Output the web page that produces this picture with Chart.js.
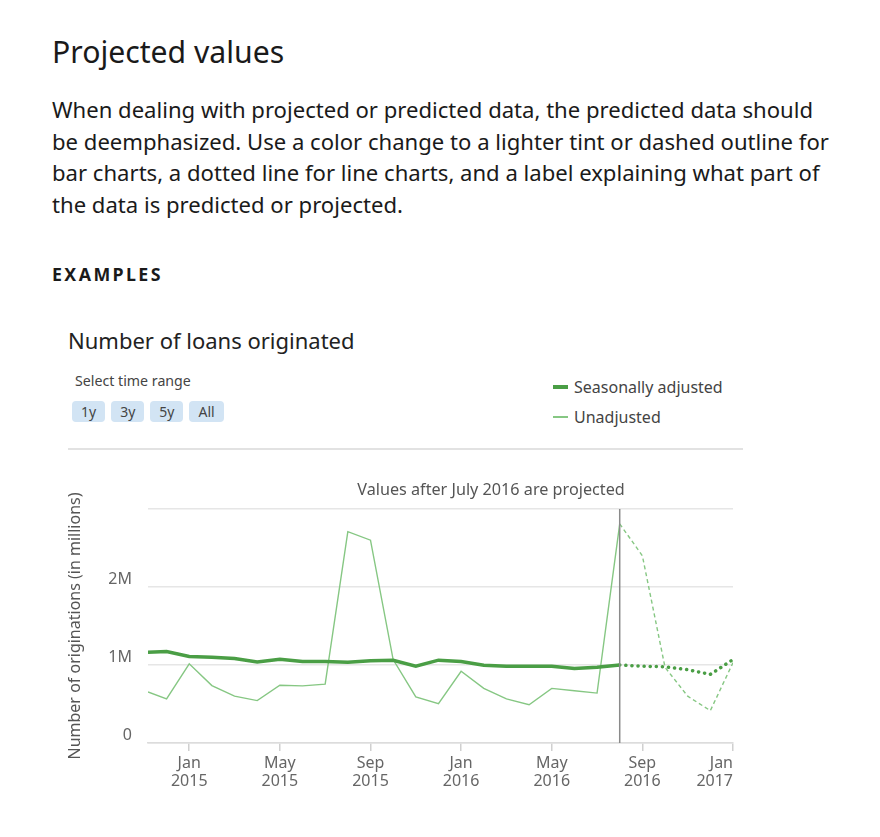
<!DOCTYPE html>
<html>
<head>
<meta charset="utf-8">
<script src="https://cdn.jsdelivr.net/npm/chart.js@4"></script>
<style>
  body { margin: 0; background: #fff; font-family: "Noto Sans", Lato, sans-serif; color: #1a1a1a; }
  .page { position: relative; width: 880px; height: 837px; }
  h1 { position: absolute; left: 52px; top: 32px; margin: 0; font-weight: 400; font-size: 30.2px; line-height: 40px; }
  p.lead { position: absolute; left: 52px; top: 94px; margin: 0; font-size: 22.1px; line-height: 31.5px; }
  .examples { position: absolute; left: 52px; top: 262px; font-size: 17.8px; font-weight: 700; letter-spacing: 2.4px; line-height: 24px; }
  .ctitle { position: absolute; left: 68px; top: 326px; font-size: 22px; color: #222; line-height: 28px; }
  .range { position: absolute; left: 75px; top: 371px; font-size: 14.2px; color: #444; line-height: 20px; }
  .btns { position: absolute; left: 72px; top: 401px; display: flex; gap: 6px; }
  .btns span { background: #d2e4f4; border-radius: 4px; font-size: 14px; color: #444; height: 21px; line-height: 21px; padding: 0 9px; }
  .legend { position: absolute; left: 553px; top: 372px; font-size: 16px; color: #444; }
  .legend div { display: flex; align-items: center; height: 30px; }
  .legend i { display: inline-block; width: 15px; margin-right: 6px; }
  .sep { position: absolute; left: 68px; top: 448px; width: 675px; height: 2px; background: #e2e2e2; }
  #wrap { position: absolute; left: 60px; top: 460px; width: 700px; height: 345px; }
</style>
</head>
<body>
<div class="page">
  <h1>Projected values</h1>
  <p class="lead">When dealing with projected or predicted data, the predicted data should<br>be deemphasized. Use a color change to a lighter tint or dashed outline for<br>bar charts, a dotted line for line charts, and a label explaining what part of<br>the data is predicted or projected.</p>
  <div class="examples">EXAMPLES</div>
  <div class="ctitle">Number of loans originated</div>
  <div class="range">Select time range</div>
  <div class="btns"><span>1y</span><span>3y</span><span>5y</span><span>All</span></div>
  <div class="legend">
    <div><i style="height:3.5px;background:#4a9e45"></i>Seasonally adjusted</div>
    <div><i style="height:1.5px;background:#86c783"></i>Unadjusted</div>
  </div>
  <div class="sep"></div>
  <div id="wrap"><canvas id="chart"></canvas></div>
</div>
<script>
// month offsets, 0 = Jan 2015 (first point sits at the left edge of the plot)
const months = [-1.82, -1, 0, 1, 2, 3, 4, 5, 6, 7, 8, 9, 10, 11, 12, 13, 14, 15, 16, 17, 18, 19, 20, 21, 22, 23, 24];
const seasonal = [1.165, 1.173, 1.11, 1.10, 1.083, 1.04, 1.075, 1.045, 1.045, 1.036, 1.054, 1.06, 0.985, 1.062,
  1.045, 0.998, 0.985, 0.985, 0.985, 0.955, 0.97, 1.0, 0.985, 0.977, 0.94, 0.88, 1.07];
const unadjusted = [0.655, 0.565, 1.015, 0.736, 0.60, 0.544, 0.74, 0.733, 0.754, 2.71, 2.60, 1.07, 0.59, 0.505,
  0.92, 0.70, 0.565, 0.49, 0.70, 0.67, 0.64, 2.81, 2.40, 0.97, 0.60, 0.415, 1.03];
const projectFrom = 19; // Aug 2016
const tickMonths = [0, 4, 8, 12, 16, 20, 24];
const tickLabels = [['Jan', '2015'], ['May', '2015'], ['Sep', '2015'], ['Jan', '2016'], ['May', '2016'], ['Sep', '2016'], ['Jan', '2017']];
const yTicks = ['0', '1M', '2M', ''];
const note = 'Values after July 2016 are projected';

const pts = vals => vals.map((v, i) => ({ x: months[i], y: v }));
const actual = arr => arr.filter(p => p.x <= projectFrom);
const projected = arr => arr.filter(p => p.x >= projectFrom);

const green = '#4a9e45';
const lightGreen = '#86c783';
const fontFamily = '"Noto Sans", Lato, sans-serif';

const projectionMarker = {
  id: 'projectionMarker',
  afterDatasetsDraw(chart) {
    const { ctx, chartArea, scales } = chart;
    const x = scales.x.getPixelForValue(projectFrom);
    ctx.save();
    ctx.strokeStyle = '#8a8a8a';
    ctx.lineWidth = 1.5;
    ctx.beginPath();
    ctx.moveTo(x, chartArea.top);
    ctx.lineTo(x, chartArea.bottom);
    ctx.stroke();
    ctx.fillStyle = '#555';
    ctx.font = '16.2px ' + fontFamily;
    ctx.textAlign = 'right';
    ctx.textBaseline = 'alphabetic';
    ctx.fillText(note, x + 5, chartArea.top - 14);
    ctx.restore();
  }
};

new Chart(document.getElementById('chart'), {
  type: 'line',
  data: {
    datasets: [
      { data: actual(pts(seasonal)), borderColor: green, borderWidth: 3.5 },
      { data: projected(pts(seasonal)), borderColor: green, borderWidth: 3.5, borderDash: [0.1, 6], borderCapStyle: 'round' },
      { data: actual(pts(unadjusted)), borderColor: lightGreen, borderWidth: 1.4 },
      { data: projected(pts(unadjusted)), borderColor: lightGreen, borderWidth: 1.4, borderDash: [4, 3] }
    ]
  },
  plugins: [projectionMarker],
  options: {
    responsive: true,
    maintainAspectRatio: false,
    animation: false,
    layout: { padding: { top: 49, right: 27, left: 0, bottom: 0 } },
    elements: { point: { radius: 0 }, line: { tension: 0, fill: false } },
    plugins: { legend: { display: false }, tooltip: { enabled: false } },
    scales: {
      x: {
        type: 'linear',
        min: months[0],
        max: 24,
        afterBuildTicks: s => { s.ticks = [{ value: months[0] }].concat(tickMonths.map(v => ({ value: v }))); },
        afterFit: s => { s.height = 62; },
        border: { color: '#dcdcdc', width: 1.5 },
        grid: {
          drawOnChartArea: false,
          tickLength: 8,
          tickColor: ctx => ctx.index === 0 ? 'rgba(0,0,0,0)' : '#d0d0d0',
          lineWidth: 1.5
        },
        ticks: {
          align: 'inner',
          maxRotation: 0,
          padding: 4,
          color: '#666',
          font: { size: 16, family: fontFamily, lineHeight: 1.1 },
          callback: (v, i) => i === 0 ? '' : tickLabels[i - 1]
        }
      },
      y: {
        min: 0,
        max: 3,
        afterFit: s => { s.width = 88; },
        border: { display: false },
        grid: { color: '#e6e6e6', lineWidth: 1.5, drawTicks: false },
        ticks: {
          stepSize: 1,
          padding: 16,
          labelOffset: -8,
          color: '#666',
          font: { size: 16, family: fontFamily },
          callback: (v, i) => yTicks[i]
        },
        title: {
          display: true,
          text: 'Number of originations (in millions)',
          color: '#555',
          padding: { top: 6, bottom: 0 },
          font: { size: 16, family: fontFamily }
        }
      }
    }
  }
});
</script>
</body>
</html>
